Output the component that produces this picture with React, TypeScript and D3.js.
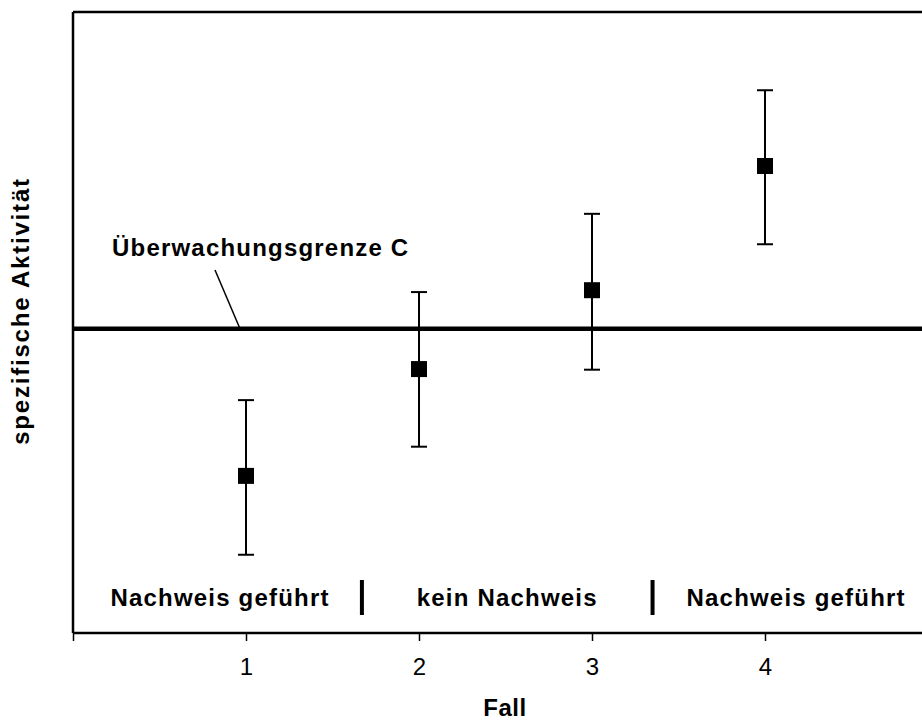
import React, { useRef, useEffect } from "react";
import * as d3 from "d3";

// Fall 1..4, specific activity (arbitrary units, no y ticks in the original)
const cases = [1, 2, 3, 4];
const means = [25.3, 42.5, 55.2, 75.2];
const lower = [12.6, 30.0, 42.4, 62.6];
const upper = [37.5, 54.9, 67.5, 87.4];
const limitC = 49.0;
const xTicks = [0, 1, 2, 3, 4, 5];

// region labels along the bottom and the separators between them
const regionLabels = ["Nachweis geführt", "kein Nachweis", "Nachweis geführt"];
const regionCenters = [0.85, 2.51, 4.18];
const separators = [1.67, 3.35];

const FONT = "'Liberation Sans', Arial, Helvetica, sans-serif";

const App = () => {
  const ref = useRef<SVGSVGElement>(null);

  useEffect(() => {
    const svg = d3.select(ref.current);
    svg.selectAll("*").remove();

    const W = 922;
    const H = 727;
    svg.attr("width", W).attr("height", H);

    const left = 73;
    const top = 12;
    const bottom = 633;

    const x = d3.scaleLinear().domain([0, 5]).range([left, left + 5 * 173]);
    const y = d3.scaleLinear().domain([0, 100]).range([bottom, top]);

    const g = svg.append("g");

    // frame: top border + left axis
    g.append("line")
      .attr("x1", left).attr("x2", W)
      .attr("y1", top).attr("y2", top)
      .attr("stroke", "#000").attr("stroke-width", 2.5);
    g.append("line")
      .attr("x1", left).attr("x2", left)
      .attr("y1", top).attr("y2", bottom)
      .attr("stroke", "#000").attr("stroke-width", 2.5);

    // x axis
    const xAxis = g.append("g")
      .attr("transform", `translate(0,${bottom})`)
      .call(d3.axisBottom(x).tickValues(xTicks).tickSize(8).tickPadding(17)
        .tickFormat((d) => (+d === 0 || +d === 5 ? "" : String(d))));
    xAxis.select(".domain").remove();
    xAxis.selectAll(".tick line").attr("stroke-width", 1.5);
    xAxis.selectAll("text")
      .style("font-family", FONT)
      .style("font-size", "24px")
      .attr("fill", "#000");
    g.append("line")
      .attr("x1", left).attr("x2", W)
      .attr("y1", bottom).attr("y2", bottom)
      .attr("stroke", "#000").attr("stroke-width", 2.5);

    // limit line C
    g.append("line")
      .attr("x1", left).attr("x2", W)
      .attr("y1", y(limitC)).attr("y2", y(limitC))
      .attr("stroke", "#000").attr("stroke-width", 4.5);

    g.append("text")
      .attr("x", 112).attr("y", 256)
      .style("font-family", FONT).style("font-size", "24px")
      .style("font-weight", "bold").style("letter-spacing", "1.2px")
      .text("Überwachungsgrenze C");
    g.append("line")
      .attr("x1", 215).attr("y1", 270)
      .attr("x2", 240).attr("y2", y(limitC))
      .attr("stroke", "#000").attr("stroke-width", 1.5);

    // error bars
    const capW = 8;
    cases.forEach((c, i) => {
      const cx = x(c);
      g.append("line")
        .attr("x1", cx).attr("x2", cx)
        .attr("y1", y(lower[i])).attr("y2", y(upper[i]))
        .attr("stroke", "#000").attr("stroke-width", 2);
      [lower[i], upper[i]].forEach((v) => {
        g.append("line")
          .attr("x1", cx - capW).attr("x2", cx + capW)
          .attr("y1", y(v)).attr("y2", y(v))
          .attr("stroke", "#000").attr("stroke-width", 2);
      });
    });

    // markers
    const s = 16;
    g.selectAll(".pt")
      .data(cases)
      .enter()
      .append("rect")
      .attr("class", "pt")
      .attr("x", (d) => x(d) - s / 2)
      .attr("y", (d, i) => y(means[i]) - s / 2)
      .attr("width", s)
      .attr("height", s)
      .attr("fill", "#000");

    // region labels + separators
    g.selectAll(".region")
      .data(regionLabels)
      .enter()
      .append("text")
      .attr("class", "region")
      .attr("x", (d, i) => x(regionCenters[i]))
      .attr("y", 606)
      .attr("text-anchor", "middle")
      .style("font-family", FONT).style("font-size", "24px")
      .style("font-weight", "bold").style("letter-spacing", "1.2px")
      .text((d) => d);
    g.selectAll(".sep")
      .data(separators)
      .enter()
      .append("line")
      .attr("x1", (d) => x(d)).attr("x2", (d) => x(d))
      .attr("y1", 580).attr("y2", 615)
      .attr("stroke", "#000").attr("stroke-width", 4);

    // axis titles
    g.append("text")
      .attr("x", 505).attr("y", 716)
      .attr("text-anchor", "middle")
      .style("font-family", FONT).style("font-size", "24px")
      .style("font-weight", "bold").style("letter-spacing", "0.5px")
      .text("Fall");
    g.append("text")
      .attr("transform", `translate(29,311) rotate(-90)`)
      .attr("text-anchor", "middle")
      .style("font-family", FONT).style("font-size", "24px")
      .style("font-weight", "bold").style("letter-spacing", "1.8px")
      .text("spezifische Aktivität");
  }, []);

  return (
    <div style={{ position: "absolute", left: 0, top: 0 }}>
      <svg ref={ref} style={{ display: "block" }} />
    </div>
  );
};

export default App;
